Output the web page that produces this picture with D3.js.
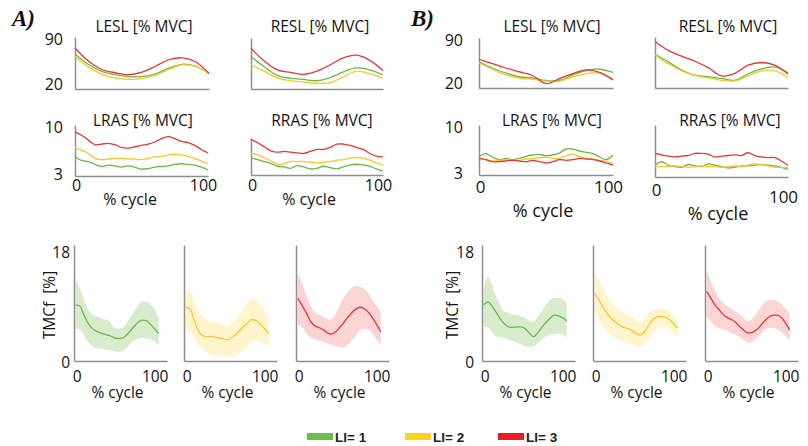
<!DOCTYPE html>
<html>
<head>
<meta charset="utf-8">
<script src="https://cdn.jsdelivr.net/npm/d3@7"></script>
<style>
  body { margin: 0; background: #fff; }
  svg { display: block; font-family: "Open Sans", sans-serif; }
</style>
</head>
<body>
<div id="chart"></div>
<script>
// % of the cycle
var cycle10 = [0, 10, 20, 30, 40, 50, 60, 70, 80, 90, 100];
var cycle5 = [0, 5, 10, 15, 20, 25, 30, 35, 40, 45, 50, 55, 60, 65, 70, 75, 80, 85, 90, 95, 100];

var liLabels = ["LI= 1", "LI= 2", "LI= 3"];

// ---- A) EMG [% MVC], one array per LI level ----
var aLeslLI1 = [64, 48, 37, 32, 29, 29, 33, 42, 48, 45, 34];
var aLeslLI2 = [60, 44, 33, 27, 25, 26, 31, 40, 47, 45, 34];
var aLeslLI3 = [73, 53, 40, 35, 32, 36, 45, 55, 58, 52, 34];

var aReslLI1 = [61, 45, 31, 27, 25, 23, 28, 37, 43, 40, 32];
var aReslLI2 = [48, 38, 27, 23, 21, 19, 20, 29, 38, 34, 27];
var aReslLI3 = [74, 54, 40, 36, 33, 38, 48, 59, 63, 55, 39];

var aLrasLI1 = [5.3, 4.8, 4.6, 4.2, 3.9, 4.1, 4.0, 3.8, 4.0, 3.8, 3.5, 3.6, 3.8, 3.9, 4.0, 4.2, 4.3, 4.2, 4.1, 3.8, 3.4];
var aLrasLI2 = [6.6, 6.3, 5.8, 5.1, 4.9, 5.0, 5.1, 5.1, 5.0, 5.0, 4.9, 5.1, 5.3, 5.4, 5.6, 5.7, 5.6, 5.4, 5.1, 4.7, 4.3];
var aLrasLI3 = [9.0, 8.5, 7.8, 7.1, 7.2, 7.3, 7.1, 6.7, 6.6, 6.8, 7.0, 7.2, 7.5, 8.0, 8.3, 8.0, 7.6, 7.4, 7.0, 6.4, 5.9];

var aRrasLI1 = [5.0, 4.8, 4.5, 4.2, 3.8, 3.7, 3.5, 3.9, 3.7, 3.4, 3.5, 3.8, 3.6, 3.4, 3.7, 4.0, 4.1, 4.0, 3.8, 3.4, 3.1];
var aRrasLI2 = [5.7, 5.5, 5.1, 4.6, 4.1, 4.2, 4.5, 4.5, 4.5, 4.4, 4.3, 4.4, 4.5, 4.7, 4.8, 5.0, 5.1, 5.0, 4.7, 4.3, 4.0];
var aRrasLI3 = [7.8, 7.3, 6.7, 6.1, 5.9, 6.0, 5.9, 5.8, 5.7, 6.0, 6.3, 6.3, 6.6, 7.1, 7.1, 6.9, 6.6, 6.3, 5.7, 5.3, 5.2];

// ---- B) EMG [% MVC] ----
var bLeslLI1 = [52, 42, 34, 28, 26, 22, 22, 31, 38, 40, 35];
var bLeslLI2 = [50, 40, 31, 26, 24, 21, 21, 28, 33, 34, 24];
var bLeslLI3 = [56, 49, 42, 36, 30, 17, 25, 33, 39, 35, 23];

var bReslLI1 = [63, 51, 38, 30, 28, 25, 22, 32, 40, 43, 34];
var bReslLI2 = [62, 48, 37, 30, 26, 22, 21, 29, 37, 37, 27];
var bReslLI3 = [83, 69, 60, 52, 42, 29, 33, 46, 50, 46, 32];

var bLrasLI1 = [5.2, 5.7, 5.2, 4.8, 5.0, 4.8, 5.0, 5.3, 5.5, 5.6, 5.4, 5.5, 5.8, 6.4, 6.4, 6.1, 5.9, 5.7, 5.2, 4.8, 5.5];
var bLrasLI2 = [5.0, 4.8, 4.6, 4.7, 4.8, 4.7, 4.7, 4.9, 5.0, 5.1, 5.2, 5.0, 5.0, 5.4, 5.6, 5.3, 5.0, 4.9, 4.7, 4.5, 4.2];
var bLrasLI3 = [5.0, 4.8, 4.5, 4.5, 4.6, 4.7, 4.6, 4.5, 4.7, 4.5, 4.3, 4.5, 4.8, 4.7, 4.8, 5.0, 4.9, 4.8, 4.6, 4.3, 4.0];

var bRrasLI1 = [4.2, 4.7, 4.2, 4.0, 3.9, 4.3, 4.1, 4.0, 4.4, 4.2, 4.0, 3.8, 3.9, 4.1, 4.1, 4.2, 4.3, 4.2, 4.1, 3.9, 3.6];
var bRrasLI2 = [4.1, 4.0, 4.0, 4.1, 4.0, 3.9, 4.0, 4.1, 4.0, 4.0, 3.9, 4.0, 4.1, 4.0, 4.2, 4.4, 4.3, 4.1, 3.9, 3.9, 3.9];
var bRrasLI3 = [5.9, 5.7, 5.5, 5.4, 5.5, 5.6, 5.9, 5.9, 5.8, 5.4, 5.5, 5.6, 5.7, 5.6, 6.0, 5.6, 5.4, 5.3, 5.3, 4.8, 4.2];

// ---- TMCf [%]: mean, upper and lower band ----
var aTmcLI1 = [9.2, 9.0, 7.5, 6.2, 5.3, 4.9, 4.6, 4.4, 4.2, 3.9, 3.7, 3.7, 4.1, 4.8, 5.6, 6.3, 6.7, 6.6, 6.0, 5.3, 4.5];
var aTmcLI1Up = [13.3, 11.9, 10.0, 8.5, 7.6, 7.3, 7.1, 6.8, 6.6, 5.7, 5.3, 5.4, 5.9, 7.0, 8.0, 9.1, 9.7, 9.7, 9.3, 8.5, 7.0];
var aTmcLI1Lo = [5.3, 5.2, 4.2, 3.1, 2.4, 2.1, 2.0, 1.9, 1.8, 1.6, 1.5, 1.6, 2.0, 2.7, 3.3, 3.7, 3.8, 3.7, 3.6, 3.2, 2.6];

var aTmcLI2 = [8.8, 8.6, 6.8, 5.0, 4.2, 4.0, 4.0, 3.9, 3.8, 3.6, 3.5, 3.8, 4.3, 5.0, 5.7, 6.3, 6.8, 6.6, 6.0, 5.3, 4.5];
var aTmcLI2Up = [11.6, 11.4, 9.8, 8.3, 7.3, 6.8, 6.6, 6.4, 6.2, 5.9, 5.7, 6.0, 6.8, 7.6, 8.6, 9.6, 10.3, 10.0, 9.3, 8.3, 7.0];
var aTmcLI2Lo = [5.1, 4.9, 3.9, 2.8, 2.0, 1.5, 1.1, 1.0, 0.9, 0.8, 0.7, 0.8, 1.0, 1.3, 1.9, 2.6, 3.2, 3.4, 3.2, 2.8, 2.3];

var aTmcLI3 = [10.3, 9.2, 8.0, 6.6, 5.8, 5.5, 5.2, 4.7, 4.4, 4.7, 5.4, 6.2, 7.1, 7.9, 8.5, 8.8, 8.6, 8.0, 7.1, 6.0, 4.8];
var aTmcLI3Up = [14.4, 12.8, 11.0, 9.3, 8.0, 7.6, 7.3, 6.9, 6.8, 7.6, 8.9, 10.3, 11.3, 12.0, 12.3, 12.2, 11.8, 11.1, 10.0, 9.0, 8.1];
var aTmcLI3Lo = [5.9, 5.6, 4.6, 3.9, 3.6, 3.4, 3.2, 3.0, 2.7, 2.5, 2.3, 2.2, 2.6, 3.3, 4.2, 5.0, 5.3, 5.1, 4.5, 3.6, 2.6];

var bTmcLI1 = [9.2, 9.7, 9.0, 8.0, 6.9, 6.1, 5.6, 5.5, 5.6, 5.6, 5.3, 4.6, 4.0, 4.6, 5.5, 6.3, 7.0, 7.5, 7.4, 7.1, 6.6];
var bTmcLI1Up = [11.9, 13.8, 12.5, 10.5, 9.2, 8.1, 7.9, 7.6, 7.5, 7.3, 7.1, 6.6, 6.4, 7.2, 8.1, 9.2, 10.0, 10.3, 10.3, 10.1, 9.5];
var bTmcLI1Lo = [5.6, 5.5, 4.8, 4.0, 3.9, 3.8, 3.5, 3.3, 3.0, 2.7, 2.4, 2.3, 2.4, 2.9, 3.5, 4.0, 4.3, 4.4, 4.5, 4.3, 3.9];

var bTmcLI2 = [11.1, 10.0, 8.8, 7.8, 7.0, 6.4, 5.9, 5.5, 5.3, 5.0, 4.5, 4.3, 4.8, 5.8, 6.8, 7.2, 7.3, 7.2, 6.8, 6.1, 5.4];
var bTmcLI2Up = [14.4, 13.3, 12.0, 10.7, 9.5, 8.9, 8.3, 7.9, 7.5, 7.2, 6.7, 6.5, 7.0, 7.9, 8.4, 8.6, 8.6, 8.5, 8.1, 7.4, 6.7];
var bTmcLI2Lo = [8.1, 6.8, 5.6, 4.8, 4.3, 3.8, 3.4, 3.1, 2.9, 2.8, 2.5, 2.3, 2.7, 3.5, 4.5, 5.3, 5.6, 5.6, 5.3, 4.6, 3.7];

var bTmcLI3 = [11.4, 10.3, 9.2, 8.4, 7.6, 7.1, 6.8, 6.3, 5.6, 5.0, 4.6, 4.7, 5.1, 5.8, 6.6, 7.2, 7.5, 7.5, 7.1, 6.2, 5.1];
var bTmcLI3Up = [15.0, 13.0, 11.6, 10.3, 9.5, 9.0, 8.5, 8.1, 7.6, 7.0, 6.5, 6.9, 7.8, 8.8, 9.6, 10.0, 10.0, 9.8, 9.3, 8.6, 7.8];
var bTmcLI3Lo = [7.3, 6.5, 5.7, 5.4, 5.1, 4.9, 4.6, 4.3, 3.9, 3.4, 3.0, 3.2, 3.7, 4.4, 5.1, 5.4, 5.4, 5.2, 4.8, 4.1, 3.4];

// colours per LI level
var lineColors = ["#6cb845", "#fcc52a", "#ee3434"];
var bandColors = ["#d9ebcd", "#fff5cc", "#fbd4d4"];
var legendColors = ["#6cbf45", "#ffd21c", "#ee1c25"];
var axisColor = "#8e8e8e";
var textColor = "#141414";

var W = 808, H = 446;
var svg = d3.select("#chart").append("svg")
    .attr("width", W)
    .attr("height", H);

// top small multiples
var topPanels = [
  { title: "LESL [% MVC]", xs: cycle10, series: [aLeslLI1, aLeslLI2, aLeslLI3], x0: 75, x1: 209, top: 37, bot: 89, dom: [10, 90], yTicks: [20, 90], yPad: 12, tx: 144, ty: 32 },
  { title: "RESL [% MVC]", xs: cycle10, series: [aReslLI1, aReslLI2, aReslLI3], x0: 251, x1: 383, top: 38, bot: 89, dom: [10, 90], tx: 320, ty: 32 },
  { title: "LRAS [% MVC]", xs: cycle5, series: [aLrasLI1, aLrasLI2, aLrasLI3], x0: 75, x1: 208, top: 125, bot: 176, dom: [2.5, 10], yTicks: [3, 10], yPad: 12, tx: 143, ty: 126,
    xt: { pad: 4, fs: 16, shift100: 0, cx: 130, cy: 205, cfs: 16 } },
  { title: "RRAS [% MVC]", xs: cycle5, series: [aRrasLI1, aRrasLI2, aRrasLI3], x0: 251, x1: 383, top: 138, bot: 175, dom: [2.5, 8], tx: 322, ty: 126,
    xt: { pad: 5, fs: 16, shift100: 0, cx: 309, cy: 205, cfs: 16 } },
  { title: "LESL [% MVC]", xs: cycle10, series: [bLeslLI1, bLeslLI2, bLeslLI3], x0: 479, x1: 613, top: 38, bot: 88, dom: [10, 90], yTicks: [20, 90], yPad: 16, tx: 552, ty: 32 },
  { title: "RESL [% MVC]", xs: cycle10, series: [bReslLI1, bReslLI2, bReslLI3], x0: 655, x1: 788, top: 37, bot: 88, dom: [10, 90], tx: 728, ty: 32 },
  { title: "LRAS [% MVC]", xs: cycle5, series: [bLrasLI1, bLrasLI2, bLrasLI3], x0: 479, x1: 613, top: 125, bot: 175, dom: [2.5, 10], yTicks: [3, 10], yPad: 16, tx: 552, ty: 126,
    xt: { pad: 6, fs: 17, shift100: 0, cx: 543, cy: 217, cfs: 18 } },
  { title: "RRAS [% MVC]", xs: cycle5, series: [bRrasLI1, bRrasLI2, bRrasLI3], x0: 655, x1: 788, top: 125, bot: 177, dom: [2.5, 10], tx: 730, ty: 126,
    xt: { pad: 7, fs: 17, shift100: 7, cx: 718, cy: 220, cfs: 18 } }
];

topPanels.forEach(function(p) {
  var x = d3.scaleLinear().domain([0, 100]).range([p.x0, p.x1]);
  var y = d3.scaleLinear().domain(p.dom).range([p.bot, p.top]);
  var g = svg.append("g");

  var line = d3.line()
      .x(function(d, i) { return x(p.xs[i]); })
      .y(function(d) { return y(d); })
      .curve(d3.curveCatmullRom.alpha(0.5));

  // y axis
  var ya = g.append("g")
      .attr("transform", "translate(" + p.x0 + ",0)")
      .call(d3.axisLeft(y).tickValues(p.yTicks || []).tickSize(0).tickSizeOuter(0).tickPadding(p.yPad || 0));
  ya.select(".domain").attr("stroke", axisColor).attr("stroke-width", 1.5);
  ya.selectAll("text").attr("font-family", "Open Sans").attr("font-size", 16).attr("fill", textColor).attr("dy", "0.45em");

  // x axis
  var xa = g.append("g")
      .attr("transform", "translate(0," + p.bot + ")")
      .call(d3.axisBottom(x).tickValues(p.xt ? [0, 100] : []).tickSize(0).tickSizeOuter(0).tickPadding(p.xt ? p.xt.pad : 0));
  xa.select(".domain").attr("stroke", axisColor).attr("stroke-width", 1.5);
  if (p.xt) {
    xa.selectAll("text")
        .attr("font-family", "Open Sans")
        .attr("font-size", p.xt.fs)
        .attr("fill", textColor)
        .attr("x", function(d) { return d === 100 ? -5 : 1; })
        .attr("y", function(d) { return p.xt.pad + (d === 100 ? p.xt.shift100 : 0); });
    g.append("text")
        .attr("x", p.xt.cx)
        .attr("y", p.xt.cy)
        .attr("text-anchor", "middle")
        .attr("font-size", p.xt.cfs)
        .attr("fill", textColor)
        .text("% cycle");
  }

  p.series.forEach(function(s, k) {
    g.append("path")
        .attr("d", line(s))
        .attr("fill", "none")
        .attr("stroke", lineColors[k])
        .attr("stroke-width", 1.3);
  });

  g.append("text")
      .attr("x", p.tx)
      .attr("y", p.ty)
      .attr("text-anchor", "middle")
      .attr("font-size", 15.5)
      .attr("fill", textColor)
      .text(p.title);
});

// bottom TMCf panels
var bottomPanels = [
  { x0: 74,  k: 0, mean: aTmcLI1, up: aTmcLI1Up, lo: aTmcLI1Lo, yLab: { tx: 70, lx: 50 } },
  { x0: 184, k: 1, mean: aTmcLI2, up: aTmcLI2Up, lo: aTmcLI2Lo },
  { x0: 296, k: 2, mean: aTmcLI3, up: aTmcLI3Up, lo: aTmcLI3Lo },
  { x0: 482, k: 0, mean: bTmcLI1, up: bTmcLI1Up, lo: bTmcLI1Lo, yLab: { tx: 474, lx: 453 } },
  { x0: 593, k: 1, mean: bTmcLI2, up: bTmcLI2Up, lo: bTmcLI2Lo },
  { x0: 705, k: 2, mean: bTmcLI3, up: bTmcLI3Up, lo: bTmcLI3Lo }
];
var bTop = 245, bBot = 361, bWidth = 93;

bottomPanels.forEach(function(p) {
  var x = d3.scaleLinear().domain([-2, 110]).range([p.x0, p.x0 + bWidth]);
  var y = d3.scaleLinear().domain([0, 19]).range([bBot, bTop]);
  var g = svg.append("g");

  var area = d3.area()
      .x(function(d, i) { return x(cycle5[i]); })
      .y0(function(d, i) { return y(p.lo[i]); })
      .y1(function(d) { return y(d); })
      .curve(d3.curveMonotoneX);
  var line = d3.line()
      .x(function(d, i) { return x(cycle5[i]); })
      .y(function(d) { return y(d); })
      .curve(d3.curveMonotoneX);

  g.append("path")
      .attr("d", area(p.up))
      .attr("fill", bandColors[p.k]);
  g.append("path")
      .attr("d", line(p.mean))
      .attr("fill", "none")
      .attr("stroke", lineColors[p.k])
      .attr("stroke-width", 1.3);

  var ya = g.append("g")
      .attr("transform", "translate(" + p.x0 + ",0)")
      .call(d3.axisLeft(y).tickValues(p.yLab ? [0, 18] : []).tickSize(0).tickSizeOuter(0).tickPadding(p.yLab ? p.x0 - p.yLab.tx : 0));
  ya.select(".domain").attr("stroke", axisColor).attr("stroke-width", 1.5);
  ya.selectAll("text").attr("font-family", "Open Sans").attr("font-size", 15.5).attr("fill", textColor).attr("dy", "0.4em");

  var xa = g.append("g")
      .attr("transform", "translate(0," + bBot + ")")
      .call(d3.axisBottom(x).tickValues([0, 100]).tickSize(0).tickSizeOuter(0).tickPadding(10));
  xa.select(".domain").attr("stroke", axisColor).attr("stroke-width", 1.5);
  xa.selectAll("text")
      .attr("font-family", "Open Sans")
      .attr("font-size", 15.5)
      .attr("fill", textColor)
      .attr("x", function(d) { return d === 100 ? -4 : 1; });

  g.append("text")
      .attr("x", p.x0 + bWidth / 2 - 3)
      .attr("y", 398)
      .attr("text-anchor", "middle")
      .attr("font-size", 15.5)
      .attr("fill", textColor)
      .text("% cycle");

  if (p.yLab) {
    g.append("text")
        .attr("transform", "translate(" + p.yLab.lx + ",305) rotate(-90)")
        .attr("text-anchor", "middle")
        .attr("dy", "0.35em")
        .attr("font-size", 15.5)
        .attr("fill", textColor)
        .attr("xml:space", "preserve")
        .text("TMCf  [%]");
  }
});

// panel letters
[["A", 12], ["B", 411]].forEach(function(d) {
  svg.append("text")
      .attr("x", d[1])
      .attr("y", 26)
      .attr("font-family", "Liberation Serif")
      .attr("font-weight", "bold")
      .attr("font-style", "italic")
      .attr("font-size", 23)
      .attr("fill", "#111")
      .text(d[0] + ")");
});

// legend
var legendX = [307, 405, 498];
var leg = svg.append("g");
liLabels.forEach(function(lab, k) {
  leg.append("rect")
      .attr("x", legendX[k])
      .attr("y", 433)
      .attr("width", 26)
      .attr("height", 7)
      .attr("fill", legendColors[k]);
  leg.append("text")
      .attr("x", legendX[k] + 28)
      .attr("y", 442)
      .attr("font-family", "Liberation Sans")
      .attr("font-weight", "bold")
      .attr("font-size", 13.5)
      .attr("fill", "#222")
      .text(lab);
});
</script>
</body>
</html>
